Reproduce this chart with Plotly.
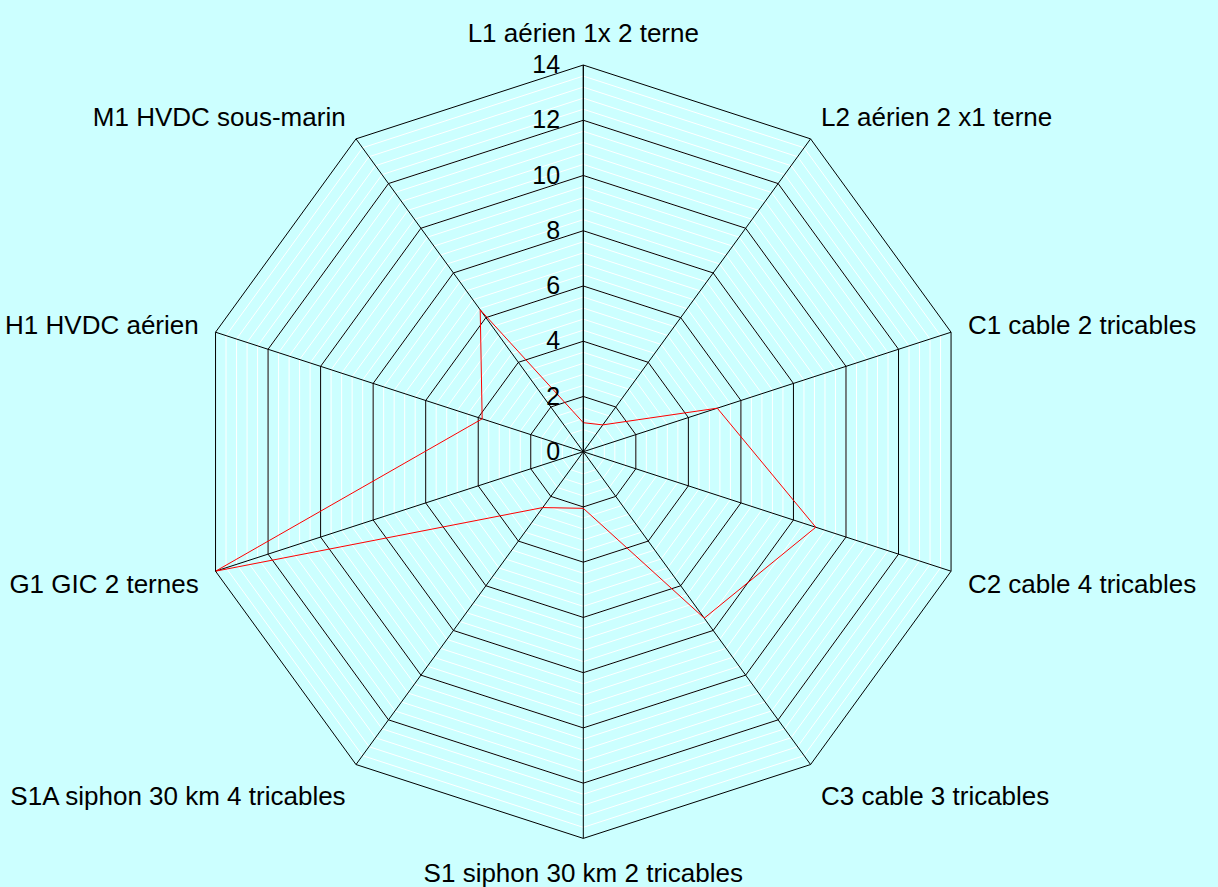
import plotly.graph_objects as go

categories = [
    "L1 aérien 1x 2 terne",
    "L2 aérien 2 x1 terne",
    "C1 cable 2 tricables",
    "C2 cable 4 tricables",
    "C3 cable 3 tricables",
    "S1 siphon 30 km 2 tricables",
    "S1A siphon 30 km 4 tricables",
    "G1 GIC 2 ternes",
    "H1 HVDC aérien",
    "M1 HVDC sous-marin",
]
values = [1.05, 1.2, 5.1, 8.85, 7.45, 2.05, 2.5, 14, 3.85, 6.35]
tick_vals = [0, 2, 4, 6, 8, 10, 12, 14]

BG = "#CCFFFF"
FONT = "Liberation Sans, Arial, sans-serif"
dom_x = [0.1614, 0.7964]
dom_y = [0.0548, 0.9267]

fig = go.Figure()

# invisible trace to define minor-grid subplot
fig.add_trace(go.Scatterpolar(
    r=[0] * len(categories), theta=categories, mode="lines",
    line=dict(color="rgba(0,0,0,0)"), hoverinfo="skip", showlegend=False,
    subplot="polar",
))

fig.add_trace(go.Scatterpolar(
    r=values + [values[0]], theta=categories + [categories[0]],
    mode="lines", line=dict(color="#FF0000", width=1),
    showlegend=False, subplot="polar2",
))

common_ang = dict(direction="clockwise", rotation=90)

fig.update_layout(
    width=1218, height=887,
    paper_bgcolor=BG,
    margin=dict(l=0, r=0, t=0, b=0),
    font=dict(family=FONT, size=26, color="black"),
    polar=dict(
        domain=dict(x=dom_x, y=dom_y),
        bgcolor=BG,
        gridshape="linear",
        radialaxis=dict(range=[0, 14], dtick=0.4, tick0=0, showgrid=True,
                        gridcolor="white", gridwidth=1, showticklabels=False,
                        ticks="", showline=False),
        angularaxis=dict(showgrid=False, showticklabels=False, ticks="",
                         showline=False, **common_ang),
    ),
    polar2=dict(
        domain=dict(x=dom_x, y=dom_y),
        bgcolor="rgba(0,0,0,0)",
        gridshape="linear",
        radialaxis=dict(range=[0, 14], tickvals=tick_vals, showgrid=True,
                        gridcolor="black", gridwidth=1, showticklabels=True,
                        ticks="outside", ticklen=14, tickcolor="rgba(0,0,0,0)",
                        showline=True, linecolor="black", linewidth=1,
                        angle=90, tickangle=90, side="counterclockwise",
                        tickfont=dict(size=25, family=FONT)),
        angularaxis=dict(showgrid=True, gridcolor="black", gridwidth=1,
                         showline=True, linecolor="black", linewidth=1,
                         ticks="outside", ticklen=12, tickcolor="rgba(0,0,0,0)",
                         tickfont=dict(size=26, family=FONT),
                         **common_ang),
    ),
)

fig.write_html(
    "out.html",
    config={"displayModeBar": False},
    post_script="document.body.style.margin='0';document.body.style.background='#CCFFFF';",
)
